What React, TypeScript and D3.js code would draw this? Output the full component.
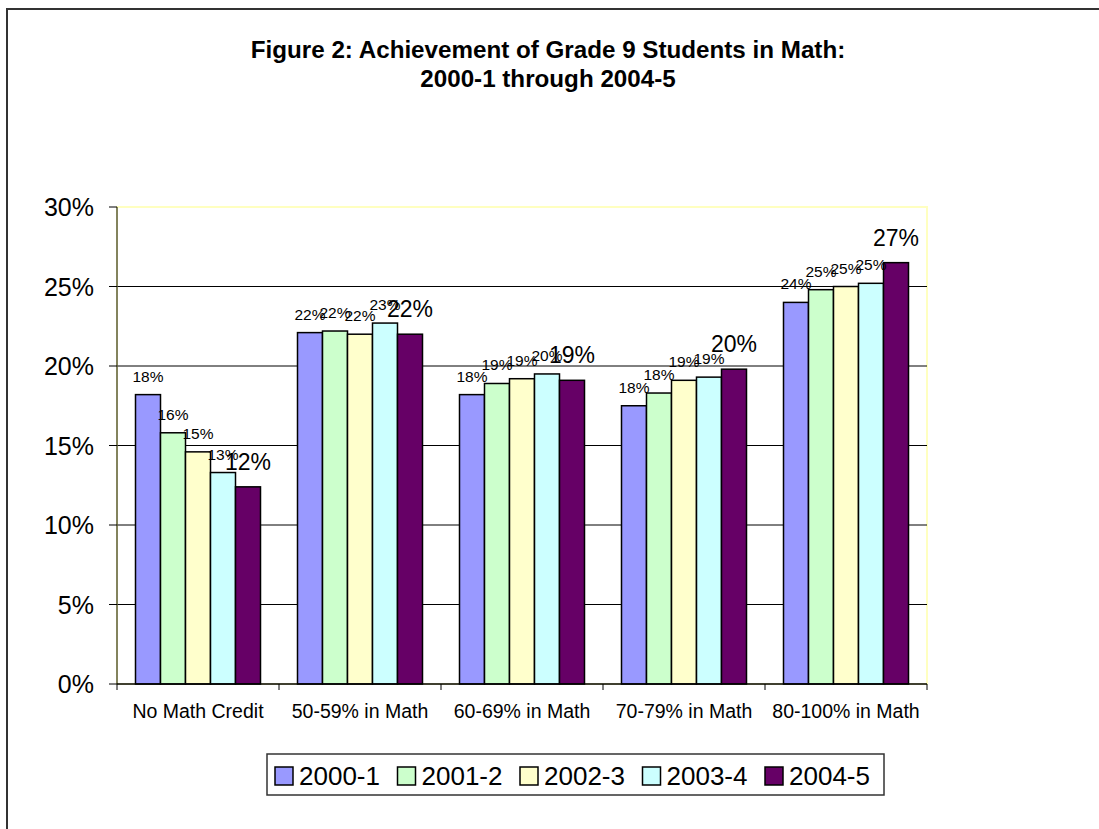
import React from "react";
import * as d3 from "d3";

const categories = ["No Math Credit", "50-59% in Math", "60-69% in Math", "70-79% in Math", "80-100% in Math"];
const seriesNames = ["2000-1", "2001-2", "2002-3", "2003-4", "2004-5"];
const seriesColors = ["#9999FF", "#CCFFCC", "#FFFFCC", "#CCFFFF", "#660066"];
const v2000_1 = [18.2, 22.1, 18.2, 17.5, 24.0];
const v2001_2 = [15.8, 22.2, 18.9, 18.3, 24.8];
const v2002_3 = [14.6, 22.0, 19.2, 19.1, 25.0];
const v2003_4 = [13.3, 22.7, 19.5, 19.3, 25.2];
const v2004_5 = [12.4, 22.0, 19.1, 19.8, 26.5];
const seriesValues = [v2000_1, v2001_2, v2002_3, v2003_4, v2004_5];
const yTicks = [0, 5, 10, 15, 20, 25, 30];

const FONT = "'Liberation Sans', Arial, sans-serif";

export default function App() {
  const W = 1099, H = 829;
  const left = 117, right = 927, top = 207, bottom = 684;
  const y = d3.scaleLinear().domain([0, 30]).range([bottom, top]);
  const x = d3.scaleBand<string>().domain(categories).range([left, right]).paddingInner(0).paddingOuter(0);
  const bw = x.bandwidth();
  const inner = d3.scaleBand<string>().domain(seriesNames).range([18.5, bw - 18.5]).padding(0);

  return (
    <svg width={W} height={H} style={{ position: "absolute", left: 0, top: 0, background: "#fff" }} fontFamily={FONT}>
      <rect x={0} y={0} width={W} height={H} fill="#fff" />
      {/* outer frame */}
      <rect x={7} y={9} width={W + 20} height={H + 20} fill="none" stroke="#333" strokeWidth={2} />
      {/* title */}
      <text x={548} y={58} textAnchor="middle" fontSize={24.2} fontWeight="bold">Figure 2: Achievement of Grade 9 Students in Math:</text>
      <text x={548} y={87} textAnchor="middle" fontSize={24.2} fontWeight="bold">2000-1 through 2004-5</text>

      {/* plot area */}
      <rect x={left} y={top} width={right - left} height={bottom - top} fill="#fff" stroke="#FFFFC0" strokeWidth={2} />
      {yTicks.filter(t => t > 0 && t < 30).map(t => (
        <line key={t} x1={left} x2={right} y1={y(t)} y2={y(t)} stroke="#000" strokeWidth={1} />
      ))}

      {/* bars */}
      {seriesNames.map((s, si) => (
        <g key={s}>
          {categories.map((c, ci) => {
            const v = seriesValues[si][ci];
            const bx = (x(c) as number) + (inner(s) as number);
            return (
              <rect key={c} x={bx} y={y(v)} width={inner.bandwidth()} height={bottom - y(v)}
                fill={seriesColors[si]} stroke="#000" strokeWidth={1.5} />
            );
          })}
        </g>
      ))}

      {/* data labels */}
      {seriesNames.map((s, si) => (
        <g key={s + "l"}>
          {categories.map((c, ci) => {
            const v = seriesValues[si][ci];
            const cx = (x(c) as number) + (inner(s) as number) + inner.bandwidth() / 2;
            const big = si === seriesNames.length - 1;
            return (
              <text key={c} x={cx} y={y(v) - (big ? 17 : 13)} textAnchor="middle" fontSize={big ? 23 : 15.5} fill="#000">
                {Math.round(v) + "%"}
              </text>
            );
          })}
        </g>
      ))}

      {/* axes */}
      <line x1={left} x2={left} y1={top} y2={bottom} stroke="#5a5a3c" strokeWidth={1.5} />
      {yTicks.map(t => (
        <g key={"yt" + t}>
          <line x1={left - 8} x2={left} y1={y(t)} y2={y(t)} stroke="#000" strokeWidth={1} />
          <text x={94} y={y(t) + 9} textAnchor="end" fontSize={25}>{t + "%"}</text>
        </g>
      ))}
      <line x1={left} x2={right} y1={bottom} y2={bottom} stroke="#000" strokeWidth={1.5} />
      {categories.map(c => (
        <line key={"xt" + c} x1={x(c) as number} x2={x(c) as number} y1={bottom} y2={bottom + 6} stroke="#000" strokeWidth={1} />
      ))}
      <line x1={right} x2={right} y1={bottom} y2={bottom + 6} stroke="#000" strokeWidth={1} />
      {categories.map(c => (
        <text key={"xl" + c} x={(x(c) as number) + bw / 2} y={718} textAnchor="middle" fontSize={19.5}>{c}</text>
      ))}

      {/* legend */}
      <rect x={267} y={754} width={617} height={41} fill="#fff" stroke="#333" strokeWidth={1.5} />
      {seriesNames.map((s, i) => (
        <g key={"lg" + s} transform={`translate(${275 + i * 122.5},0)`}>
          <rect x={0} y={767} width={18} height={18} fill={seriesColors[i]} stroke="#000" strokeWidth={1.5} />
          <text x={24} y={785} fontSize={26}>{s}</text>
        </g>
      ))}
    </svg>
  );
}
